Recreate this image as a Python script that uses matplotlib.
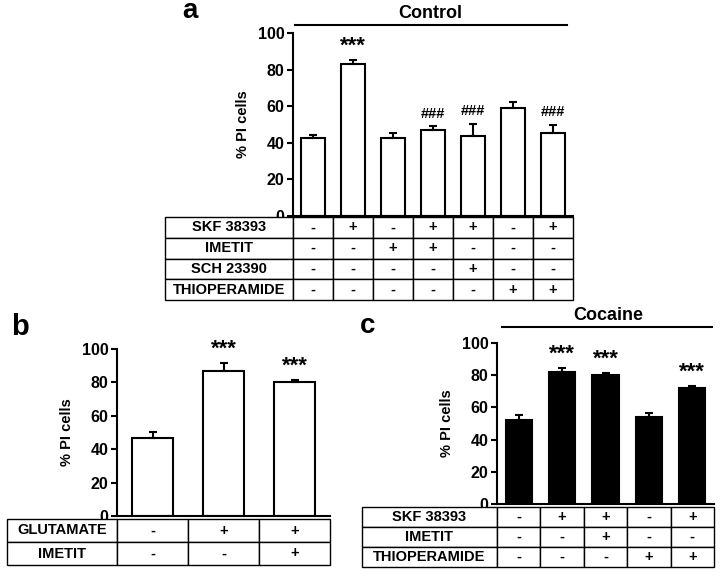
import matplotlib
matplotlib.use('Agg')
import matplotlib.pyplot as plt
import numpy as np

plt.rcParams['font.family'] = ['Liberation Sans', 'DejaVu Sans']
plt.rcParams['font.weight'] = 'bold'

W, H = 720, 580

# panel a - control
a_means = [42.5, 83, 42.5, 47, 43.5, 59, 45.5]
a_errs = [2, 2, 3, 2, 7, 3.5, 4.5]
a_marks = ['', '***', '', '###', '###', '', '###']
a_rows = ['SKF 38393', 'IMETIT', 'SCH 23390', 'THIOPERAMIDE']
a_cells = [['-', '+', '-', '+', '+', '-', '+'],
           ['-', '-', '+', '+', '-', '-', '-'],
           ['-', '-', '-', '-', '+', '-', '-'],
           ['-', '-', '-', '-', '-', '+', '+']]

# panel b - glutamate
b_means = [47, 87, 80]
b_errs = [3.5, 4.5, 1.5]
b_marks = ['', '***', '***']
b_rows = ['GLUTAMATE', 'IMETIT']
b_cells = [['-', '+', '+'],
           ['-', '-', '+']]

# panel c - cocaine
c_means = [52, 82, 80, 54, 72]
c_errs = [3, 2.5, 1.5, 2.5, 1.5]
c_marks = ['', '***', '***', '', '***']
c_rows = ['SKF 38393', 'IMETIT', 'THIOPERAMIDE']
c_cells = [['-', '+', '+', '-', '+'],
           ['-', '-', '+', '-', '-'],
           ['-', '-', '-', '+', '+']]


def px_axes(fig, x0, y0, x1, y1):
    # pixel box (top-left origin) -> figure fraction
    return fig.add_axes([x0 / W, 1 - y1 / H, (x1 - x0) / W, (y1 - y0) / H])


def bar_panel(fig, box, means, errs, marks, color, width):
    ax = px_axes(fig, *box)
    x = np.arange(len(means))
    ax.bar(x, means, width=width, color=color, edgecolor='black', linewidth=1.5, zorder=2)
    ax.errorbar(x, means, yerr=[np.zeros(len(errs)), errs], fmt='none',
                ecolor='black', elinewidth=1.5, capsize=3, capthick=1.5, zorder=3)
    for xi, m, e, s in zip(x, means, errs, marks):
        if s == '***':
            ax.text(xi, m + e + 2, s, ha='center', va='bottom', fontsize=16, fontweight='bold')
        elif s:
            ax.text(xi, m + e + 3, s, ha='center', va='bottom', fontsize=10.5, fontweight='bold')
    ax.set_xlim(-0.5, len(means) - 0.5)
    ax.set_ylim(0, 100)
    ax.set_yticks([0, 20, 40, 60, 80, 100])
    ax.set_xticks([])
    for s in ['top', 'right']:
        ax.spines[s].set_visible(False)
    for s in ['left', 'bottom']:
        ax.spines[s].set_linewidth(1.5)
    ax.tick_params(axis='y', direction='out', length=4, width=1.5, labelsize=11.5, pad=2)
    for lab in ax.get_yticklabels():
        lab.set_fontweight('bold')
    ax.set_ylabel('% PI cells', fontsize=10.5, fontweight='bold', labelpad=6)
    ax.patch.set_alpha(0)
    return ax


def table_panel(fig, box, labels, cells, label_frac):
    ax = px_axes(fig, *box)
    ax.axis('off')
    ncol = len(cells[0])
    widths = [label_frac] + [(1 - label_frac) / ncol] * ncol
    text = [[lab] + row for lab, row in zip(labels, cells)]
    tb = ax.table(cellText=text, colWidths=widths, cellLoc='center', bbox=[0, 0, 1, 1])
    tb.auto_set_font_size(False)
    for (r, c), cell in tb.get_celld().items():
        cell.set_linewidth(1.0)
        cell.get_text().set_fontsize(10.5)
        cell.get_text().set_fontweight('bold')
    return ax


fig = plt.figure(figsize=(7.2, 5.8), dpi=100)

# a
bar_panel(fig, (293, 33, 573, 216), a_means, a_errs, a_marks, 'white', 0.62)
table_panel(fig, (165, 217, 573, 300), a_rows, a_cells, 128 / 408)
fig.add_artist(plt.Line2D([295 / W, 567 / W], [1 - 25 / H, 1 - 25 / H], color='black', lw=1.5))
fig.text(430 / W, 1 - 18 / H, 'Control', ha='center', va='baseline', fontsize=13, fontweight='bold')
fig.text(190 / W, 1 - 18 / H, 'a', ha='center', va='baseline', fontsize=20, fontweight='bold')

# b
bar_panel(fig, (117, 349, 330, 516), b_means, b_errs, b_marks, 'white', 0.57)
table_panel(fig, (7, 519, 330, 565), b_rows, b_cells, 110 / 323)
fig.text(20 / W, 1 - 335 / H, 'b', ha='center', va='baseline', fontsize=21, fontweight='bold')

# c
bar_panel(fig, (497, 343, 714, 504), c_means, c_errs, c_marks, 'black', 0.6)
table_panel(fig, (362, 507, 714, 567), c_rows, c_cells, 135 / 352)
fig.add_artist(plt.Line2D([502 / W, 712 / W], [1 - 327 / H, 1 - 327 / H], color='black', lw=1.5))
fig.text(608 / W, 1 - 320 / H, 'Cocaine', ha='center', va='baseline', fontsize=13, fontweight='bold')
fig.text(368 / W, 1 - 333 / H, 'c', ha='center', va='baseline', fontsize=20, fontweight='bold')

fig.savefig('out.png', dpi=100)
